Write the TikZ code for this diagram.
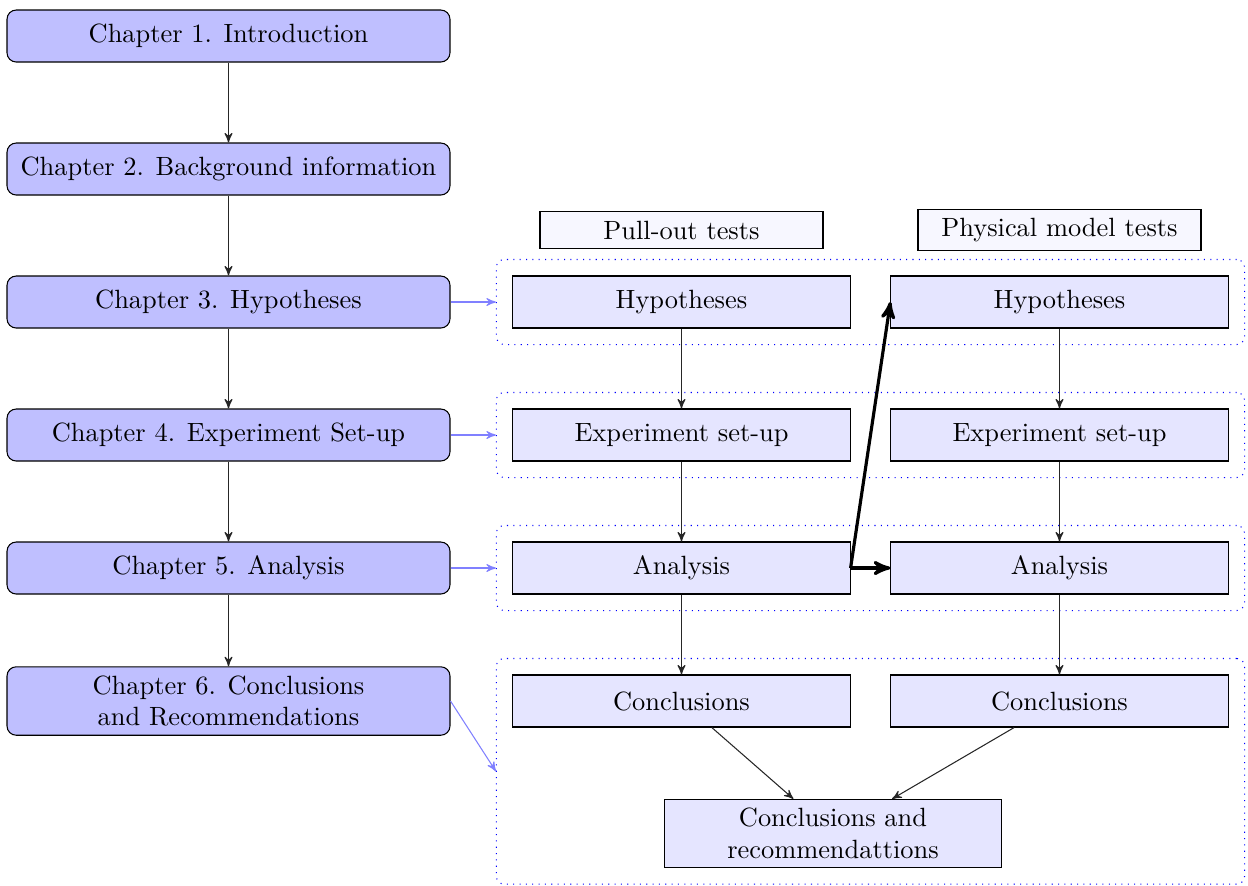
\documentclass[tikz,border=0pt]{standalone}
\usetikzlibrary{fit,arrows}
\begin{document}
\begin{tikzpicture}[x=0.3788pt,y=-0.3788pt,
  chap/.style={draw, fill=blue!25, rounded corners=3.5pt, minimum width=167.8pt, minimum height=19.7pt, align=center, inner sep=3.33pt},
  sub/.style={draw, fill=blue!10, minimum width=127.7pt, minimum height=19.7pt, align=center},
  hdr/.style={draw, fill=blue!3, minimum width=107.2pt, align=center},
  grp/.style={draw=blue, dotted, rounded corners=3pt, inner sep=6.06pt},
  arr/.style={-stealth', black!85},
  barr/.style={-stealth', blue!50},
  tarr/.style={-stealth', very thick}]
\useasboundingbox (0,0) rectangle (1248,885);
% left column
\node[chap] (c1) at (228.5,36) {Chapter 1. Introduction};
\node[chap] (c2) at (228.5,169) {Chapter 2. Background information};
\node[chap] (c3) at (228.5,302) {Chapter 3. Hypotheses};
\node[chap] (c4) at (228.5,435) {Chapter 4. Experiment Set-up};
\node[chap] (c5) at (228.5,568) {Chapter 5. Analysis};
\node[chap] (c6) at (228.5,701) {Chapter 6. Conclusions\\and Recommendations};
% headers
\node[hdr] (hp) at (681.5,230) {Pull-out tests};
\node[hdr] (hq) at (1059.5,230) {Physical model tests};
% pull-out column
\node[sub] (p1) at (681.5,302) {Hypotheses};
\node[sub] (p2) at (681.5,435) {Experiment set-up};
\node[sub] (p3) at (681.5,568) {Analysis};
\node[sub] (p4) at (681.5,701) {Conclusions};
% physical column
\node[sub] (q1) at (1059.5,302) {Hypotheses};
\node[sub] (q2) at (1059.5,435) {Experiment set-up};
\node[sub] (q3) at (1059.5,568) {Analysis};
\node[sub] (q4) at (1059.5,701) {Conclusions};
% final
\node[sub, minimum width=127.3pt] (fin) at (833,833.5) {Conclusions and\\recommendattions};
% groups
\node[grp, fit=(p1)(q1)] (g1) {};
\node[grp, fit=(p2)(q2)] (g2) {};
\node[grp, fit=(p3)(q3)] (g3) {};
\node[grp, fit=(p4)(q4)(fin)] (g4) {};
% left arrows
\draw[arr] (c1) -- (c2);
\draw[arr] (c2) -- (c3);
\draw[arr] (c3) -- (c4);
\draw[arr] (c4) -- (c5);
\draw[arr] (c5) -- (c6);
% blue arrows
\draw[barr] (c3.east) -- (g1.west);
\draw[barr] (c4.east) -- (g2.west);
\draw[barr] (c5.east) -- (g3.west);
\draw[barr] (c6.east) -- (g4.west);
% column arrows
\draw[arr] (p1) -- (p2);
\draw[arr] (p2) -- (p3);
\draw[arr] (p3) -- (p4);
\draw[arr] (q1) -- (q2);
\draw[arr] (q2) -- (q3);
\draw[arr] (q3) -- (q4);
\draw[arr] (p4) -- (fin);
\draw[arr] (q4) -- (fin);
% thick arrows
\draw[tarr] (p3.east) -- (q3.west);
\draw[tarr] (p3.east) -- (q1.west);
\end{tikzpicture}
\end{document}
